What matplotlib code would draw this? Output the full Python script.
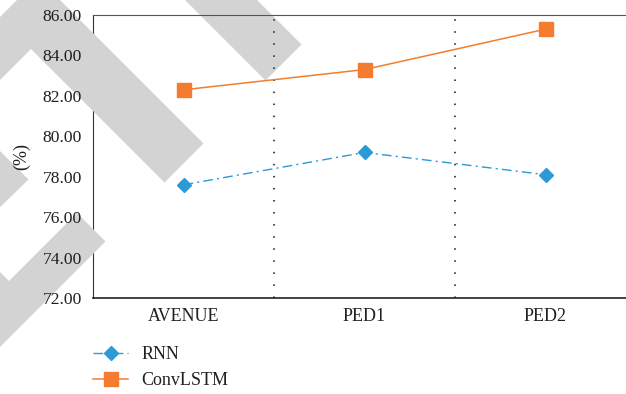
import matplotlib
matplotlib.use("Agg")
import matplotlib.pyplot as plt
from matplotlib.patches import Polygon
from matplotlib.transforms import Affine2D

categories = ["AVENUE", "PED1", "PED2"]
rnn = [77.6, 79.2, 78.1]
convlstm = [82.3, 83.3, 85.3]
y_ticks = [72, 74, 76, 78, 80, 82, 84, 86]

W, H = 626, 394

# grey watermark bands, in pixel coordinates of the picture (y downwards)
watermark = [
    [(-50, 67), (38.5, -21.5), (203.5, 143.5), (164.5, 182.5), (31, 49), (-50, 130)],
    [(155, -30), (227, -30), (301.5, 44.5), (265.5, 80.5)],
    [(-60, 91), (28.5, 179.5), (-9.5, 216.5), (-60, 166)],
    [(9, 281), (77, 213), (105.5, 241.5), (0, 347), (-50, 297), (-50, 222)],
]

plt.rcParams["font.family"] = ["Liberation Serif", "DejaVu Serif"]

fig = plt.figure(figsize=(W / 100, H / 100), dpi=100)
ax = fig.add_axes([93 / W, 96 / H, 543 / W, 283 / H])

x = list(range(len(categories)))
ax.plot(x, rnn, color="#2B9AD6", lw=1.0, linestyle=(0, (7, 3, 1.5, 3)),
        marker="D", ms=7.5, label="RNN", zorder=3)
ax.plot(x, convlstm, color="#F47C30", lw=1.1, linestyle="-",
        marker="s", ms=9.5, label="ConvLSTM", zorder=3)

for xv in [0.5, 1.5]:
    ax.axvline(xv, color="#444444", lw=1.4, linestyle=(0, (0.8, 5.4)), zorder=1.8)

ax.set_xlim(-0.5, 2.5)
ax.set_ylim(72, 86)
ax.set_xticks(x)
ax.set_xticklabels(categories)
ax.set_yticks(y_ticks)
ax.set_yticklabels([f"{v:.2f}" for v in y_ticks])
ax.tick_params(axis="both", length=0, labelsize=13, colors="#231f20")
ax.tick_params(axis="y", pad=8, labelsize=12.6)
ax.tick_params(axis="x", pad=7)
ax.set_ylabel("(%)", fontsize=13, color="#231f20", labelpad=9)

ax.spines["top"].set_color("#555555")
ax.spines["bottom"].set_color("#222222")
ax.spines["bottom"].set_linewidth(1.2)
ax.spines["left"].set_color("#333333")
ax.spines["left"].set_zorder(1)
ax.spines["right"].set_visible(False)

px = Affine2D().scale(1 / W, -1 / H).translate(0, 1) + fig.transFigure
for verts in watermark:
    ax.add_patch(Polygon(verts, closed=True, facecolor="#d3d3d3", edgecolor="none",
                         transform=px, clip_on=False, zorder=1.2))

ax.legend(loc="upper left", bbox_to_anchor=(93 / W, (H - 346) / H),
          bbox_transform=fig.transFigure, frameon=False, fontsize=13,
          borderpad=0, borderaxespad=0, handlelength=1.95, handletextpad=0.75,
          labelspacing=0.5, labelcolor="#231f20")

fig.savefig("out.png", dpi=100)
